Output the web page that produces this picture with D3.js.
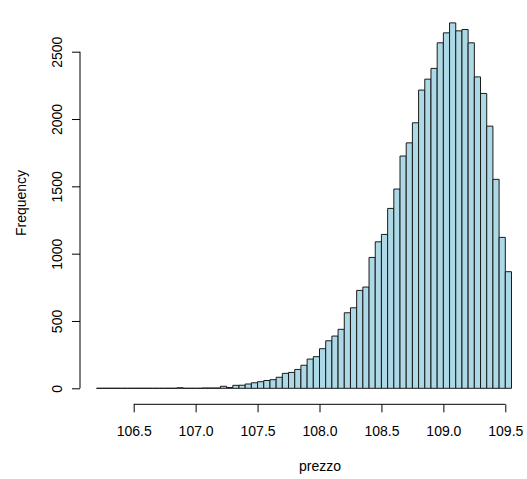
<!DOCTYPE html>
<html>
<head>
<meta charset="utf-8">
<script src="https://cdn.jsdelivr.net/npm/d3@7"></script>
<style>
  html, body { margin: 0; padding: 0; background: #fff; }
  svg { display: block; }
  text { font-family: "Liberation Sans", Arial, sans-serif; fill: #000; }
</style>
</head>
<body>
<svg id="chart" width="527" height="479"></svg>
<script>
// Histogram bins: start at 106.2, width 0.05
const binStart = 106.2;
const binWidth = 0.05;
const counts = [
  0, 0, 0, 0, 0, 0, 0, 0, 0, 0,
  0, 0, 0, 4, 0, 0, 0, 2, 2, 2,
  15, 6, 22, 23, 32, 41, 49, 58, 64, 82,
  111, 118, 140, 171, 217, 235, 294, 353, 388, 438,
  561, 598, 727, 752, 972, 1088, 1143, 1336, 1480, 1725,
  1823, 1972, 2215, 2296, 2376, 2566, 2640, 2714, 2655, 2665,
  2566, 2313, 2190, 1947, 1552, 1121, 866
];
const xTicks = [106.5, 107.0, 107.5, 108.0, 108.5, 109.0, 109.5];
const yTicks = [0, 500, 1000, 1500, 2000, 2500];
const xLabel = "prezzo";
const yLabel = "Frequency";

const svg = d3.select("#chart");

const x = d3.scaleLinear().domain([106.5, 109.5]).range([133.7, 505.3]);
const y = d3.scaleLinear().domain([0, 2500]).range([388.3, 51.7]);

const bins = counts.map((c, i) => ({
  x0: binStart + i * binWidth,
  x1: binStart + (i + 1) * binWidth,
  n: c
}));

// bars (paths so that zero-height bins still show as lines)
svg.append("g")
  .selectAll("path")
  .data(bins)
  .join("path")
  .attr("d", d => {
    const a = x(d.x0), b = x(d.x1), y0 = y(0), y1 = y(d.n);
    return `M${a},${y0}V${y1}H${b}V${y0}Z`;
  })
  .attr("fill", "#ADD8E6")
  .attr("stroke", "#1a1a1a")
  .attr("stroke-width", 1);

// x axis
const xAxis = d3.axisBottom(x)
  .tickValues(xTicks)
  .tickFormat(d3.format(".1f"))
  .tickSize(8)
  .tickSizeOuter(0);
const gx = svg.append("g")
  .attr("transform", "translate(0,404.3)")
  .call(xAxis);
gx.select(".domain").attr("d", `M${x(106.5)},0H${x(109.5)}`).attr("stroke", "#000");
gx.selectAll(".tick line").attr("stroke", "#000");
gx.selectAll(".tick text")
  .attr("y", 32)
  .attr("dy", 0)
  .style("font-size", "14px")
  .style("font-family", "Liberation Sans, Arial, sans-serif")
  .attr("fill", "#000");

// y axis
const yAxis = d3.axisLeft(y)
  .tickValues(yTicks)
  .tickFormat(d3.format("d"))
  .tickSize(8)
  .tickSizeOuter(0);
const gy = svg.append("g")
  .attr("transform", "translate(80,0)")
  .call(yAxis);
gy.select(".domain").attr("d", `M0,${y(0)}V${y(2500)}`).attr("stroke", "#000");
gy.selectAll(".tick line").attr("stroke", "#000");
gy.selectAll(".tick text")
  .attr("x", 0).attr("y", 0).attr("dy", 0)
  .attr("text-anchor", "middle")
  .attr("transform", "translate(-18,0) rotate(-90)")
  .style("font-size", "14px")
  .style("font-family", "Liberation Sans, Arial, sans-serif")
  .attr("fill", "#000");

// axis titles
svg.append("text")
  .attr("x", 320)
  .attr("y", 471)
  .attr("text-anchor", "middle")
  .style("font-size", "14px")
  .text(xLabel);

svg.append("text")
  .attr("transform", `translate(26,203) rotate(-90)`)
  .attr("text-anchor", "middle")
  .style("font-size", "14px")
  .text(yLabel);
</script>
</body>
</html>
